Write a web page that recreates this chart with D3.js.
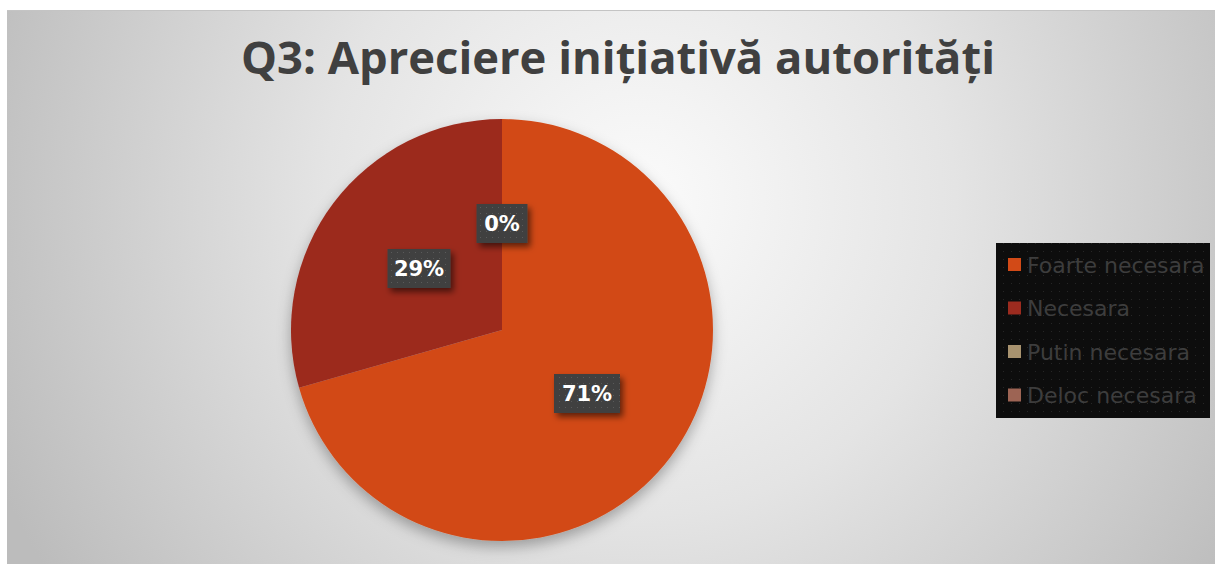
<!DOCTYPE html>
<html>
<head>
<meta charset="utf-8">
<script src="https://cdn.jsdelivr.net/npm/d3@7"></script>
<style>
  body { margin: 0; background: #fff; }
  svg { display: block; }
</style>
</head>
<body>
<div id="chart"></div>
<script>
var W = 1215, H = 564;

// data
var categories = ["Foarte necesara", "Necesara", "Putin necesara", "Deloc necesara"];
var counts = [12, 5, 0, 0];
var colors = ["#d24a17", "#9c2b1f", "#a8936f", "#9d6454"];
var titleText = "Q3: Apreciere inițiativă autorități";

var svg = d3.select("#chart")
  .append("svg")
  .attr("width", W)
  .attr("height", H);

var defs = svg.append("defs");

// background gradient
var grad = defs.append("radialGradient")
  .attr("id", "bg")
  .attr("gradientUnits", "userSpaceOnUse")
  .attr("cx", 640).attr("cy", 200).attr("r", 700);
grad.append("stop").attr("offset", "0%").attr("stop-color", "#fbfbfb");
grad.append("stop").attr("offset", "45%").attr("stop-color", "#e4e4e4");
grad.append("stop").attr("offset", "100%").attr("stop-color", "#bcbcbc");

// dotted pattern for label boxes
var pat = defs.append("pattern")
  .attr("id", "dots")
  .attr("width", 6).attr("height", 6)
  .attr("patternUnits", "userSpaceOnUse");
pat.append("rect").attr("width", 6).attr("height", 6).attr("fill", "#3f3f3f");
pat.append("rect").attr("x", 2).attr("y", 2).attr("width", 1).attr("height", 1).attr("fill", "#5a5a5a");

var pat2 = defs.append("pattern")
  .attr("id", "dots2")
  .attr("width", 8).attr("height", 8)
  .attr("patternUnits", "userSpaceOnUse");
pat2.append("rect").attr("width", 8).attr("height", 8).attr("fill", "#0d0d0d");
pat2.append("rect").attr("x", 3).attr("y", 3).attr("width", 1).attr("height", 1).attr("fill", "#262626");

// shadows
var sh = defs.append("filter").attr("id", "pieShadow")
  .attr("x", "-20%").attr("y", "-20%").attr("width", "140%").attr("height", "140%");
sh.append("feDropShadow").attr("dx", 0).attr("dy", 6).attr("stdDeviation", 7)
  .attr("flood-color", "#000").attr("flood-opacity", 0.3);

var sh2 = defs.append("filter").attr("id", "boxShadow")
  .attr("x", "-30%").attr("y", "-30%").attr("width", "170%").attr("height", "170%");
sh2.append("feDropShadow").attr("dx", 3).attr("dy", 4).attr("stdDeviation", 3)
  .attr("flood-color", "#000").attr("flood-opacity", 0.55);

// chart area
svg.append("rect")
  .attr("x", 7).attr("y", 10)
  .attr("width", W - 7).attr("height", H - 10)
  .attr("fill", "url(#bg)");
svg.append("line")
  .attr("x1", 7).attr("x2", W).attr("y1", 10.5).attr("y2", 10.5)
  .attr("stroke", "#c4c4c4");

// title
svg.append("text")
  .attr("x", 618).attr("y", 74)
  .attr("text-anchor", "middle")
  .attr("font-family", "'Open Sans', sans-serif")
  .attr("font-weight", "bold")
  .attr("font-size", 44)
  .attr("textLength", 754)
  .attr("lengthAdjust", "spacingAndGlyphs")
  .attr("fill", "#404040")
  .text(titleText);

// pie
var cx = 502, cy = 330, R = 211;
var total = d3.sum(counts);
var data = categories.map(function (c, i) {
  return { name: c, value: counts[i], color: colors[i] };
});

var pie = d3.pie().sort(null).value(function (d) { return d.value; });
var arc = d3.arc().innerRadius(0).outerRadius(R);
var arcs = pie(data);

var g = svg.append("g").attr("transform", "translate(" + cx + "," + cy + ")");
g.append("g").attr("filter", "url(#pieShadow)")
  .selectAll("path")
  .data(arcs.filter(function (d) { return d.value > 0; }))
  .enter()
  .append("path")
  .attr("d", arc)
  .attr("fill", function (d) { return d.data.color; });

// labels
var labelPos = [
  [85, 63],   // 71%
  [-83, -62], // 29%
  [0, -107]   // 0%
];
function fmt(v) { return Math.round(v / total * 100) + "%"; }

var labels = [
  { text: fmt(counts[0]), pos: labelPos[0], w: 66 },
  { text: fmt(counts[1]), pos: labelPos[1], w: 63 },
  { text: fmt(counts[2]), pos: labelPos[2], w: 51 }
];
var lg = g.selectAll(".lbl").data(labels).enter().append("g")
  .attr("class", "lbl")
  .attr("transform", function (d) { return "translate(" + d.pos[0] + "," + d.pos[1] + ")"; });
lg.append("rect")
  .attr("x", function (d) { return -d.w / 2; })
  .attr("y", -19)
  .attr("width", function (d) { return d.w; })
  .attr("height", 39)
  .attr("fill", "url(#dots)")
  .attr("filter", "url(#boxShadow)");
lg.append("text")
  .attr("text-anchor", "middle")
  .attr("dy", "0.36em")
  .attr("font-family", "'DejaVu Sans', sans-serif")
  .attr("font-weight", "bold")
  .attr("font-size", 21)
  .attr("fill", "#ffffff")
  .text(function (d) { return d.text; });

// legend
var lx = 996, ly = 243;
svg.append("rect")
  .attr("x", lx).attr("y", ly)
  .attr("width", 214).attr("height", 175)
  .attr("fill", "url(#dots2)");
var items = svg.append("g").selectAll("g")
  .data(data)
  .enter().append("g")
  .attr("transform", function (d, i) { return "translate(" + (lx + 12) + "," + (ly + 22 + i * 43.5) + ")"; });
items.append("rect")
  .attr("x", 0).attr("y", -7)
  .attr("width", 13).attr("height", 13)
  .attr("fill", function (d) { return d.color; });
items.append("text")
  .attr("x", 19).attr("dy", "0.36em")
  .attr("font-family", "'DejaVu Sans', sans-serif")
  .attr("font-size", 22)
  .attr("fill", "#3d3d3d")
  .text(function (d) { return d.name; });
</script>
</body>
</html>
